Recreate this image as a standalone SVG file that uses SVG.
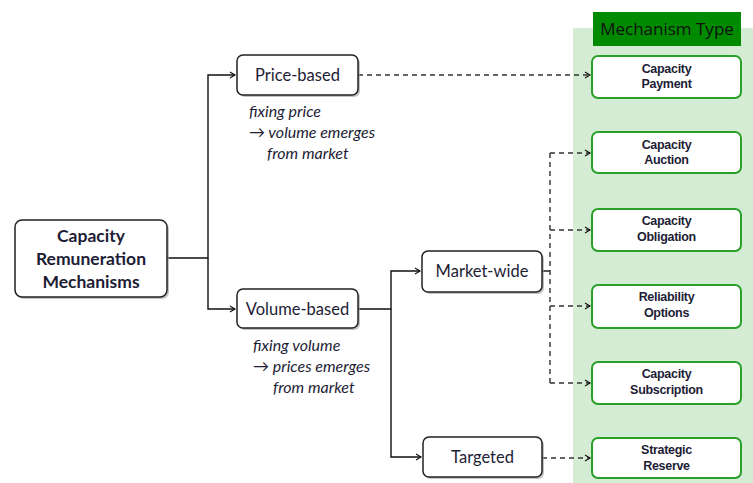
<svg xmlns="http://www.w3.org/2000/svg" width="753" height="483" viewBox="0 0 753 483">
<style>
.box{fill:#fff;stroke:#222;stroke-width:1.5}
.shadow{fill:#9a9a9a;opacity:0.6}
.mbox{fill:#fff;stroke:#2aa02a;stroke-width:2}
.t{font-family:Lato,"Open Sans",sans-serif;fill:#1d1d35;text-anchor:middle}
.tb{font-family:Lato,"Open Sans",sans-serif;font-weight:bold;fill:#1d1d35;text-anchor:middle}
.it{font-family:Lato,"Open Sans",sans-serif;font-style:italic;fill:#1d1d35;font-size:16px}
.mt{font-family:"Liberation Sans",Lato,sans-serif;font-weight:bold;fill:#1d1d35;text-anchor:middle;font-size:12.5px;letter-spacing:-0.3px}
.solid{fill:none;stroke:#111;stroke-width:1.4}
.dash{fill:none;stroke:#333;stroke-width:1.4;stroke-dasharray:5,4}
</style>
<defs>
<marker id="ar" markerWidth="8" markerHeight="8" refX="6" refY="4" orient="auto" markerUnits="userSpaceOnUse">
<path d="M1,1 L6,4 L1,7" fill="none" stroke="#111" stroke-width="1.1"/>
</marker>
</defs>
<rect x="0" y="0" width="753" height="483" fill="#fff"/>
<rect x="573" y="28" width="180" height="455" fill="#d3ecd3"/>
<g id="header">
<rect x="593" y="12" width="148" height="34" fill="#008a00"/>
<text x="667" y="35" font-family="'Open Sans',Lato,sans-serif" font-size="17" fill="#111" text-anchor="middle">Mechanism Type</text>
</g>
<g id="connectors">
<path class="solid" d="M167,258 H208 V75 H235" marker-end="url(#ar)"/>
<path class="solid" d="M208,258 V309 H235" marker-end="url(#ar)"/>
<path class="solid" d="M358,309 H391 V271 H420" marker-end="url(#ar)"/>
<path class="solid" d="M391,309 V457 H421" marker-end="url(#ar)"/>
<path class="solid" d="M542,271 H550"/>
<path class="dash" d="M550,153 V383"/>
<path class="dash" d="M550,153 H590" marker-end="url(#ar)"/>
<path class="dash" d="M550,230 H590" marker-end="url(#ar)"/>
<path class="dash" d="M550,306 H590" marker-end="url(#ar)"/>
<path class="dash" d="M550,383 H590" marker-end="url(#ar)"/>
<path class="dash" d="M358,75 H590" marker-end="url(#ar)"/>
<path class="dash" d="M542,458 H590" marker-end="url(#ar)"/>
</g>
<g id="crm">
<rect class="shadow" x="17" y="222" width="152" height="77" rx="7"/>
<rect class="box" x="15" y="220" width="152" height="77" rx="7"/>
<text class="tb" font-size="17.5" x="91" y="242">Capacity</text>
<text class="tb" font-size="17.5" x="91" y="265">Remuneration</text>
<text class="tb" font-size="17.5" x="91" y="288">Mechanisms</text>
</g>
<g id="price">
<rect class="shadow" x="239" y="57" width="121" height="40" rx="6"/>
<rect class="box" x="237" y="55" width="121" height="40" rx="6"/>
<text class="t" font-size="16.5" x="297.5" y="81">Price-based</text>
<text class="it" x="249" y="117">fixing price</text>
<text class="it" x="249" y="138">→ volume emerges</text>
<text class="it" x="267" y="159">from market</text>
</g>
<g id="volume">
<rect class="shadow" x="239" y="291" width="121" height="39" rx="6"/>
<rect class="box" x="237" y="289" width="121" height="39" rx="6"/>
<text class="t" font-size="16.5" x="297.5" y="314.5">Volume-based</text>
<text class="it" x="253" y="351">fixing volume</text>
<text class="it" x="253" y="372">→ prices emerges</text>
<text class="it" x="273" y="393">from market</text>
</g>
<g id="marketwide">
<rect class="shadow" x="424" y="253" width="120" height="41" rx="6"/>
<rect class="box" x="422" y="251" width="120" height="41" rx="6"/>
<text class="t" font-size="16.5" x="482" y="277">Market-wide</text>
</g>
<g id="targeted">
<rect class="shadow" x="425" y="439" width="119" height="40" rx="6"/>
<rect class="box" x="423" y="437" width="119" height="40" rx="6"/>
<text class="t" font-size="16.5" x="482.5" y="463">Targeted</text>
</g>
<g id="m-payment">
<rect class="mbox" x="592" y="56" width="149" height="42" rx="6"/>
<text class="mt" x="666.5" y="73">Capacity</text>
<text class="mt" x="666.5" y="88">Payment</text>
</g>
<g id="m-auction">
<rect class="mbox" x="592" y="132" width="149" height="41" rx="6"/>
<text class="mt" x="666.5" y="149">Capacity</text>
<text class="mt" x="666.5" y="164">Auction</text>
</g>
<g id="m-obligation">
<rect class="mbox" x="592" y="209" width="149" height="42" rx="6"/>
<text class="mt" x="666.5" y="225">Capacity</text>
<text class="mt" x="666.5" y="241">Obligation</text>
</g>
<g id="m-reliability">
<rect class="mbox" x="592" y="285" width="149" height="43" rx="6"/>
<text class="mt" x="666.5" y="301">Reliability</text>
<text class="mt" x="666.5" y="317">Options</text>
</g>
<g id="m-subscription">
<rect class="mbox" x="592" y="362" width="149" height="42" rx="6"/>
<text class="mt" x="666.5" y="378">Capacity</text>
<text class="mt" x="666.5" y="394">Subscription</text>
</g>
<g id="m-strategic">
<rect class="mbox" x="592" y="438" width="149" height="40" rx="6"/>
<text class="mt" x="666.5" y="454">Strategic</text>
<text class="mt" x="666.5" y="470">Reserve</text>
</g>
</svg>
